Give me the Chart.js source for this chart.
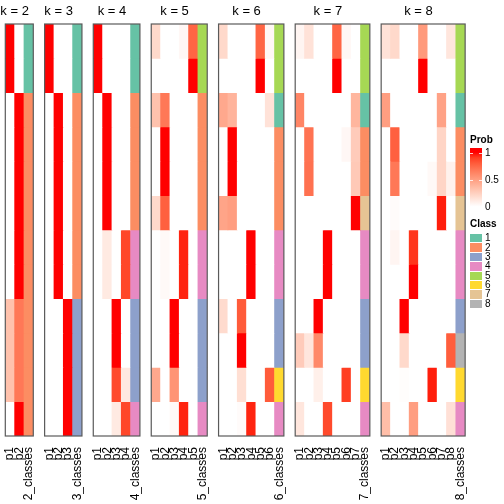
<!DOCTYPE html>
<html>
<head>
<meta charset="utf-8">
<script src="https://cdn.jsdelivr.net/npm/chart.js@4"></script>
<style>
  body { margin: 0; background: #fff; }
  #wrap { position: relative; width: 504px; height: 504px; overflow: hidden; font-family: "Liberation Sans", Arial, sans-serif; }
  #wrap canvas { position: absolute; top: 0; }
  .lg { position: absolute; font-size: 10px; color: #000; line-height: 10px; white-space: nowrap; }
</style>
</head>
<body>
<div id="wrap"></div>
<script>
// membership probabilities per sample (12 rows) for each k, and the class call
const k2Prob = [
  [1, 0], [1, 0], [0, 1], [0, 1], [0, 1], [0, 1],
  [0, 1], [0, 1], [0.32, 0.68], [0.32, 0.68], [0.32, 0.68], [0, 1]
];
const k2Class = [1, 1, 2, 2, 2, 2, 2, 2, 2, 2, 2, 2];

const k3Prob = [
  [1, 0, 0], [1, 0, 0], [0, 1, 0], [0, 1, 0], [0, 1, 0], [0, 1, 0],
  [0, 1, 0], [0, 1, 0], [0, 0, 1], [0, 0, 1], [0, 0, 1], [0, 0, 1]
];
const k3Class = [1, 1, 2, 2, 2, 2, 2, 2, 3, 3, 3, 3];

const k4Prob = [
  [1, 0, 0, 0], [1, 0, 0, 0], [0, 1, 0, 0], [0, 1, 0, 0], [0, 1, 0, 0], [0, 1, 0, 0],
  [0, 0.11, 0, 0.87], [0, 0.11, 0, 0.87], [0, 0, 1, 0], [0, 0, 1, 0],
  [0, 0, 0.86, 0.12], [0, 0, 0.11, 0.87]
];
const k4Class = [1, 1, 2, 2, 2, 2, 4, 4, 3, 3, 3, 4];

const k5Prob = [
  [0.2, 0, 0, 0.04, 0.76], [0, 0, 0, 0, 1], [0.32, 0.68, 0, 0, 0], [0, 1, 0, 0, 0],
  [0, 1, 0, 0, 0], [0.2, 0.78, 0, 0, 0], [0, 0.03, 0, 0.96, 0], [0, 0.03, 0, 0.96, 0],
  [0, 0, 1, 0, 0], [0, 0, 1, 0, 0], [0.45, 0, 0.55, 0, 0], [0, 0, 0.03, 0.96, 0]
];
const k5Class = [5, 5, 2, 2, 2, 2, 4, 4, 3, 3, 3, 4];

const k6Prob = [
  [0.2, 0, 0, 0, 0.76, 0.04], [0, 0, 0, 0, 1, 0], [0.45, 0.39, 0, 0, 0, 0.15],
  [0, 1, 0, 0, 0, 0], [0, 1, 0, 0, 0, 0], [0.47, 0.5, 0, 0, 0, 0],
  [0, 0, 0, 1, 0, 0], [0, 0, 0, 1, 0, 0], [0.19, 0, 0.8, 0, 0, 0],
  [0, 0, 1, 0, 0, 0], [0, 0, 0.17, 0, 0, 0.8], [0, 0, 0.02, 0.96, 0, 0]
];
const k6Class = [5, 5, 1, 2, 2, 2, 4, 4, 3, 3, 6, 4];

const k7Prob = [
  [0.05, 0.15, 0, 0, 0.76, 0.04, 0], [0, 0, 0, 0, 1, 0, 0], [0.62, 0, 0, 0, 0, 0, 0.38],
  [0, 0.7, 0, 0, 0, 0.04, 0.27], [0, 0.71, 0, 0, 0, 0, 0.28], [0, 0, 0, 0, 0, 0, 1],
  [0, 0, 0, 1, 0, 0, 0], [0, 0, 0, 1, 0, 0, 0], [0, 0, 1, 0, 0, 0, 0],
  [0.27, 0.13, 0.6, 0, 0, 0, 0], [0, 0, 0.08, 0, 0, 0.9, 0], [0.13, 0, 0, 0.86, 0, 0, 0]
];
const k7Class = [5, 5, 1, 2, 2, 7, 4, 4, 3, 3, 6, 4];

const k8Prob = [
  [0.15, 0.2, 0, 0, 0.52, 0, 0, 0.13], [0, 0, 0, 0, 1, 0, 0, 0],
  [0.5, 0, 0, 0, 0, 0, 0.48, 0], [0, 0.78, 0, 0, 0, 0, 0.22, 0],
  [0, 0.68, 0, 0, 0, 0.03, 0.22, 0.07], [0, 0.02, 0, 0, 0, 0, 0.97, 0],
  [0, 0.05, 0, 0.92, 0, 0, 0, 0], [0, 0, 0, 1, 0, 0, 0, 0],
  [0, 0, 1, 0, 0, 0, 0, 0], [0, 0, 0.2, 0, 0, 0, 0, 0.79],
  [0, 0, 0.01, 0, 0, 0.97, 0, 0], [0.34, 0, 0, 0.5, 0, 0, 0, 0.16]
];
const k8Class = [5, 5, 1, 2, 2, 7, 4, 4, 3, 8, 6, 4];

const kValues = [2, 3, 4, 5, 6, 7, 8];
const probSets = [k2Prob, k3Prob, k4Prob, k5Prob, k6Prob, k7Prob, k8Prob];
const classSets = [k2Class, k3Class, k4Class, k5Class, k6Class, k7Class, k8Class];

const classColors = ["#66C2A5", "#FC8D62", "#8DA0CB", "#E78AC3", "#A6D854", "#FFD92F", "#E5C494", "#B3B3B3"];
const probTicks = ["1", "0.5", "0"];

const FONT = '"Liberation Sans", Arial, sans-serif';
const COL_W = 9.33, GAP = 11.33, X0 = 5.3, TOP = 24, BOTTOM = 436, PAD = 8;

// white -> red ramp interpolated in LAB, like colorRamp2
function toLin(c) { c /= 255; return c <= 0.04045 ? c / 12.92 : Math.pow((c + 0.055) / 1.055, 2.4); }
function toSrgb(c) {
  c = c <= 0.0031308 ? 12.92 * c : 1.055 * Math.pow(c, 1 / 2.4) - 0.055;
  return Math.round(Math.max(0, Math.min(1, c)) * 255);
}
function rgbToLab(r, g, b) {
  r = toLin(r); g = toLin(g); b = toLin(b);
  const X = (0.4124 * r + 0.3576 * g + 0.1805 * b) / 0.95047;
  const Y = 0.2126 * r + 0.7152 * g + 0.0722 * b;
  const Z = (0.0193 * r + 0.1192 * g + 0.9505 * b) / 1.08883;
  const f = t => t > 0.008856 ? Math.cbrt(t) : 7.787 * t + 16 / 116;
  return [116 * f(Y) - 16, 500 * (f(X) - f(Y)), 200 * (f(Y) - f(Z))];
}
function labToRgb(L, a, b) {
  const fy = (L + 16) / 116, fx = fy + a / 500, fz = fy - b / 200;
  const inv = t => t * t * t > 0.008856 ? t * t * t : (t - 16 / 116) / 7.787;
  const X = inv(fx) * 0.95047, Y = inv(fy), Z = inv(fz) * 1.08883;
  return [
    toSrgb(3.2406 * X - 1.5372 * Y - 0.4986 * Z),
    toSrgb(-0.9689 * X + 1.8758 * Y + 0.0415 * Z),
    toSrgb(0.0557 * X - 0.2040 * Y + 1.0570 * Z)
  ];
}
const LAB_WHITE = rgbToLab(255, 255, 255), LAB_RED = rgbToLab(255, 0, 0);
function probColor(p) {
  const l = LAB_WHITE.map((w, i) => w + (LAB_RED[i] - w) * p);
  const c = labToRgb(l[0], l[1], l[2]);
  return `rgb(${c[0]},${c[1]},${c[2]})`;
}

const wrap = document.getElementById("wrap");

function panelDecor(k) {
  return {
    id: "panelDecor",
    afterDatasetsDraw(chart) {
      const { ctx, chartArea: a } = chart;
      ctx.save();
      ctx.strokeStyle = "#5a5a5a";
      ctx.lineWidth = 1.2;
      ctx.strokeRect(a.left, a.top, a.right - a.left, a.bottom - a.top);
      ctx.restore();
    },
    afterDraw(chart) {
      const { ctx } = chart;
      const x = chart.scales.x;
      const cx = (x.getPixelForTick(0) + x.getPixelForTick(k - 1)) / 2;
      ctx.save();
      ctx.font = "13px " + FONT;
      ctx.fillStyle = "#000";
      ctx.textAlign = "center";
      ctx.textBaseline = "alphabetic";
      ctx.fillText("k = " + k, cx, 15);
      ctx.restore();
    }
  };
}

function makePanel(k, prob, cls, left) {
  const n = k + 1;
  const width = n * COL_W;
  const canvasLeft = Math.floor(left) - PAD;
  const canvasRight = Math.ceil(left + width) + PAD;
  const canvas = document.createElement("canvas");
  canvas.width = canvasRight - canvasLeft;
  canvas.height = 504;
  canvas.style.left = canvasLeft + "px";
  wrap.appendChild(canvas);

  const labels = prob[0].map((_, i) => "p" + (i + 1)).concat(k + "_classes");
  const datasets = prob.map((row, r) => ({
    data: labels.map(() => 1),
    backgroundColor: row.map(probColor).concat(classColors[cls[r] - 1]),
    borderWidth: 0,
    barPercentage: 1,
    categoryPercentage: 1
  }));

  new Chart(canvas, {
    type: "bar",
    data: { labels, datasets },
    options: {
      responsive: false,
      animation: false,
      events: [],
      layout: { padding: { top: TOP, bottom: 0, left: left - canvasLeft, right: canvasRight - left - width } },
      plugins: { legend: { display: false }, tooltip: { enabled: false } },
      scales: {
        x: {
          stacked: true,
          grid: { display: false },
          border: { display: false },
          ticks: {
            autoSkip: false, minRotation: 90, maxRotation: 90, padding: 3,
            color: "#000", font: { family: FONT, size: 12 }
          },
          afterFit: s => { s.height = 504 - BOTTOM; s.paddingLeft = 0; s.paddingRight = 0; }
        },
        y: { stacked: true, display: false, reverse: true, min: 0, max: prob.length }
      }
    },
    plugins: [panelDecor(k)]
  });
}

let left = X0;
kValues.forEach((k, i) => {
  makePanel(k, probSets[i], classSets[i], left);
  left += (k + 1) * COL_W + GAP;
});

// legends
function addText(txt, x, y, bold) {
  const d = document.createElement("div");
  d.className = "lg";
  d.textContent = txt;
  d.style.left = x + "px";
  d.style.top = (y - 5) + "px";
  if (bold) d.style.fontWeight = "bold";
  wrap.appendChild(d);
}

addText("Prob", 470, 140, true);
const bar = document.createElement("div");
bar.style.cssText = "position:absolute;left:470px;top:148px;width:12px;height:61px;";
const stops = [];
for (let i = 0; i <= 10; i++) stops.push(probColor(1 - i / 10) + " " + (7 + i * 8.9).toFixed(1) + "%");
bar.style.background = "linear-gradient(to bottom," + probColor(1) + " 0%," + stops.join(",") + ",#fff 100%)";
wrap.appendChild(bar);
[152.5, 179.5].forEach(y => {
  [470, 479].forEach(x => {
    const t = document.createElement("div");
    t.style.cssText = `position:absolute;left:${x}px;top:${y}px;width:3px;height:1px;background:rgba(255,255,255,0.8);`;
    wrap.appendChild(t);
  });
});
probTicks.forEach((t, i) => addText(t, 485, 152.5 + i * 27, false));

addText("Class", 470, 224, true);
classColors.forEach((c, i) => {
  const y = 238.3 + i * 9.35;
  const sw = document.createElement("div");
  sw.style.cssText = `position:absolute;left:470px;top:${y - 4.2}px;width:12px;height:8.4px;background:${c};`;
  wrap.appendChild(sw);
  addText(String(i + 1), 485, y, false);
});
</script>
</body>
</html>
